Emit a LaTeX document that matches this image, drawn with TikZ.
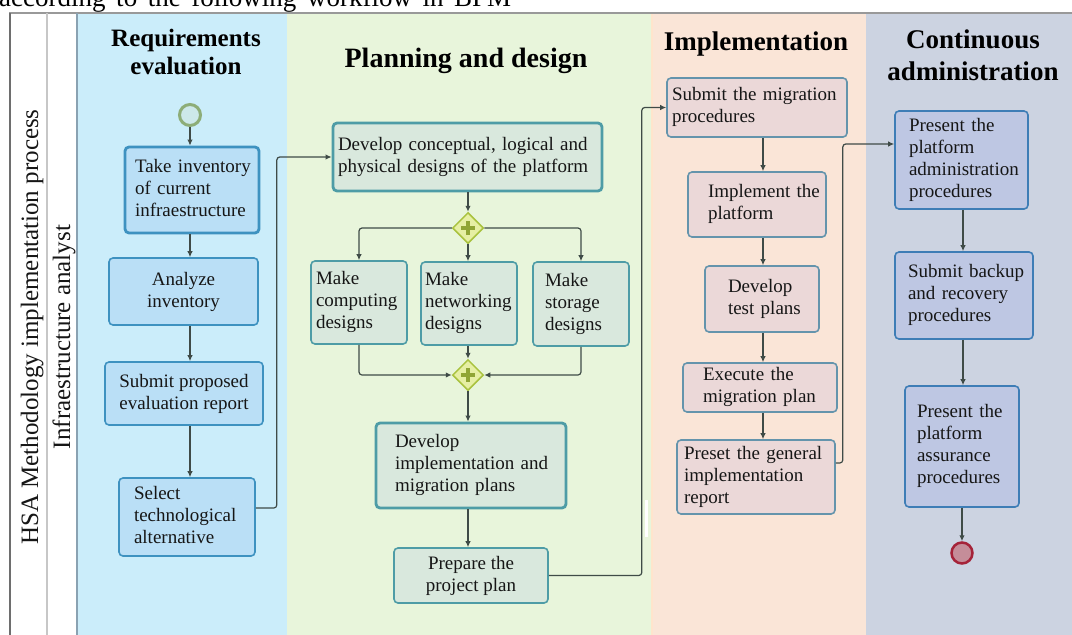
\documentclass[tikz,border=0pt]{standalone}
\usepackage{fontspec}
\setmainfont{Liberation Serif}
\usetikzlibrary{arrows.meta,shapes.geometric}

% lane backgrounds
\definecolor{laneReq}{HTML}{CBEDFA}
\definecolor{lanePlan}{HTML}{E8F5DB}
\definecolor{laneImpl}{HTML}{FAE5D7}
\definecolor{laneAdm}{HTML}{CCD3E1}
% task colours per lane
\definecolor{fillReq}{HTML}{BADFF6}
\definecolor{lineReq}{HTML}{3E92C0}
\definecolor{fillPlan}{HTML}{D9E8DD}
\definecolor{linePlan}{HTML}{4E9CA6}
\definecolor{fillImpl}{HTML}{EBD8D8}
\definecolor{lineImpl}{HTML}{6494AC}
\definecolor{fillAdm}{HTML}{BEC7E3}
\definecolor{lineAdm}{HTML}{3E7DB6}
% flow objects
\definecolor{flowc}{HTML}{3F4B47}
\definecolor{gwfill}{HTML}{E6EFA4}
\definecolor{gwline}{HTML}{A9C23E}
\definecolor{startline}{HTML}{8DAD78}
\definecolor{startfill}{HTML}{CDE8EA}
\definecolor{endline}{HTML}{A52339}
\definecolor{endfill}{HTML}{C58D99}
\definecolor{inkc}{HTML}{161616}
\definecolor{poolline}{HTML}{6E6E6E}
\definecolor{laneedge}{HTML}{8AA2B2}

% left-aligned block of lines inside a task
\newcommand\boxlines[1]{\begin{tabular}{@{}l@{}}#1\end{tabular}}

\begin{document}
\begin{tikzpicture}[x=1pt,y=-1pt,
  task/.style={rectangle, rounded corners=4pt, line width=1.6pt, text=inkc,
    font=\fontsize{19}{22}\selectfont, inner ysep=0pt},
  taskReq/.style={task, fill=fillReq, draw=lineReq},
  taskPlan/.style={task, fill=fillPlan, draw=linePlan},
  taskImpl/.style={task, fill=fillImpl, draw=lineImpl},
  taskAdm/.style={task, fill=fillAdm, draw=lineAdm},
  heavy/.style={line width=2.8pt},
  flow/.style={draw=flowc, line width=1.2pt, rounded corners=3pt,
    -{Latex[length=6pt,width=5.5pt]}},
  gateway/.style={diamond, aspect=1, minimum width=31pt, minimum height=31pt,
    inner sep=0pt, fill=gwfill, draw=gwline, line width=1.5pt},
  gwplus/.style={draw=gwline!85!black, line width=3.5pt},
  header/.style={text=black, font=\bfseries\fontsize{28}{32}\selectfont,
    align=center, inner sep=0pt},
  lanelabel/.style={rotate=90, anchor=base, inner sep=0pt, text=inkc,
    font=\fontsize{25}{28}\selectfont},
]
\useasboundingbox (0,0) rectangle (1072,635);
\fill[white] (0,0) rectangle (1072,635);

% text line running above the pool
\node[anchor=base west, inner sep=0pt, font=\fontsize{27}{30}\selectfont, text=black]
  (lead) at (-1,6) {\makebox[512pt][s]{according to the following workflow in BPM}};

% lanes
\fill[laneReq]  (77,13)  rectangle (287,635);
\fill[lanePlan] (287,13) rectangle (652,635);
\fill[laneImpl] (652,13) rectangle (866,635);
\fill[laneAdm]  (866,13) rectangle (1072,635);
\draw[line width=1.5pt, draw=orange!20] (652,13) -- (652,635);
\fill[white] (645,500) rectangle (648,537);

% pool frame and label columns
\draw[line width=1.5pt, draw=black!40] (9,13) -- (1072,13);
\draw[line width=2.5pt, draw=poolline] (10,13) -- (10,635);
\draw[line width=1.5pt, draw=black!22] (47,13) -- (47,635);
\draw[line width=1.5pt, draw=laneedge] (77,13) -- (77,635);

\node[lanelabel] (pool) at (38,327) {HSA Methodology implementation process};
\node[lanelabel] (role) at (70,337) {Infraestructure analyst};

% phase headers
\node[header, font=\bfseries\fontsize{25}{28}\selectfont] (hReq) at (186,52) {Requirements\\evaluation};
\node[header, anchor=base] (hPlan) at (466,67) {Planning and design};
\node[header, font=\bfseries\fontsize{27}{32}\selectfont, anchor=base] (hImpl) at (756,50) {Implementation};
\node[header, font=\bfseries\fontsize{27}{32}\selectfont] (hAdm) at (973,55) {Continuous\\administration};

% column guides for vertical flows
\coordinate (pcol) at (763,0);
\coordinate (gcol) at (963,0);

% requirements evaluation
\node[circle, minimum size=21pt, inner sep=0pt, fill=startfill, draw=startline, line width=3pt] (st) at (190,115) {};
\node[taskReq, heavy, minimum height=86pt, text width=114pt, inner xsep=10pt, align=left] (t1) at (192,190)
  {\boxlines{Take inventory\\of current\\infraestructure}};
\node[taskReq, minimum width=149pt, minimum height=67pt, align=center] (t2) at (183.5,291.5)
  {Analyze\\inventory};
\node[taskReq, minimum width=158pt, minimum height=63pt, align=center] (t3) at (184,393.5)
  {Submit proposed\\evaluation report};
\node[taskReq, minimum height=78pt, text width=106pt, inner xsep=15pt, align=left] (t4) at (187,517)
  {\boxlines{Select\\technological\\alternative}};

% planning and design
\node[taskPlan, heavy, minimum height=68pt, text width=259pt, inner xsep=5pt, align=left] (dc) at (467.5,157)
  {\boxlines{Develop conceptual, logical and\\physical designs of the platform}};
\node[gateway] (g1) at (468,228) {};
\draw[gwplus] (g1.center) ++(-7,0) -- ++(14,0);
\draw[gwplus] (g1.center) ++(0,-7) -- ++(0,14);
\node[taskPlan, minimum height=83pt, text width=86pt, inner xsep=5pt, align=left] (comp) at (359,302.5)
  {\boxlines{Make\\computing\\designs}};
\node[taskPlan, minimum height=83pt, text width=88pt, inner xsep=4pt, align=left] (net) at (469,303.5)
  {\boxlines{Make\\networking\\designs}};
\node[taskPlan, minimum height=84pt, text width=72pt, inner xsep=12pt, align=left] (stor) at (581,304)
  {\boxlines{Make\\storage\\designs}};
\node[gateway] (g2) at (468,375) {};
\draw[gwplus] (g2.center) ++(-7,0) -- ++(14,0);
\draw[gwplus] (g2.center) ++(0,-7) -- ++(0,14);
\node[taskPlan, heavy, minimum height=85pt, text width=152pt, inner xsep=19pt, align=left] (di) at (471,465.5)
  {\boxlines{Develop\\implementation and\\migration plans}};
\node[taskPlan, minimum width=154pt, minimum height=55pt, align=center] (prep) at (471,575.5)
  {Prepare the\\project plan};

% implementation
\node[taskImpl, minimum height=59pt, text width=170pt, inner xsep=5pt, align=left] (mig) at (757,107.5)
  {\boxlines{Submit the migration\\procedures}};
\node[taskImpl, minimum height=65pt, text width=98pt, inner xsep=20pt, align=left] (impl) at (757,204.5)
  {\boxlines{Implement the\\platform}};
\node[taskImpl, minimum height=66pt, text width=68pt, inner xsep=23pt, align=left] (test) at (762,299)
  {\boxlines{Develop\\test plans}};
\node[taskImpl, minimum height=49pt, text width=114pt, inner xsep=20pt, align=left] (exec) at (760,387.5)
  {\boxlines{Execute the\\migration plan}};
\node[taskImpl, minimum height=74pt, text width=144pt, inner xsep=7pt, align=left] (rep) at (756,477)
  {\boxlines{Preset the general\\implementation\\report}};

% continuous administration
\node[taskAdm, minimum height=98pt, text width=105pt, inner xsep=14pt, align=left] (adm) at (961.5,160)
  {\boxlines{Present the\\platform\\administration\\procedures}};
\node[taskAdm, minimum height=87pt, text width=112pt, inner xsep=13pt, align=left] (bak) at (964,295.5)
  {\boxlines{Submit backup\\and recovery\\procedures}};
\node[taskAdm, minimum height=121pt, text width=90pt, inner xsep=12pt, align=left] (asr) at (962,446.5)
  {\boxlines{Present the\\platform\\assurance\\procedures}};
\node[circle, minimum size=21pt, inner sep=0pt, fill=endfill, draw=endline, line width=2.5pt] (en) at (962,553) {};

% sequence flows: requirements evaluation
\draw[flow] (st) -- (t1.north -| st);
\draw[flow] (t1.south -| st) -- (t2.north -| st);
\draw[flow] (t2.south -| st) -- (t3.north -| st);
\draw[flow] (t3.south -| st) -- (t4.north -| st);
\draw[flow] ([yshift=9pt]t4.east) -- ++(21,0) |- (dc.west);

% sequence flows: planning and design
\draw[flow] (dc.south -| g1) -- (g1.north);
\draw[flow] (g1.west) -| (comp.north);
\draw[flow] (g1.south) -- (g1.south |- net.north);
\draw[flow] (g1.east) -| (stor.north);
\draw[flow] (comp.south) |- (g2.west);
\draw[flow] (net.south -| g2) -- (g2.north);
\draw[flow] (stor.south) |- (g2.east);
\draw[flow] (g2.south) -- (g2.south |- di.north);
\draw[flow] (di.south -| g2) -- (prep.north -| g2);
\draw[flow] (prep.east) -- ++(93,0) |- (mig.west);

% sequence flows: implementation
\draw[flow] (mig.south -| pcol) -- (impl.north -| pcol);
\draw[flow] (impl.south -| pcol) -- (test.north -| pcol);
\draw[flow] (test.south -| pcol) -- (exec.north -| pcol);
\draw[flow] (exec.south -| pcol) -- (rep.north -| pcol);
\draw[flow] ([yshift=14pt]rep.east) -- ++(7,0) |- ([yshift=16pt]adm.west);

% sequence flows: continuous administration
\draw[flow] (adm.south -| gcol) -- (bak.north -| gcol);
\draw[flow] (bak.south -| gcol) -- (asr.north -| gcol);
\draw[flow] (asr.south -| en) -- (en.north);
\end{tikzpicture}
\end{document}
